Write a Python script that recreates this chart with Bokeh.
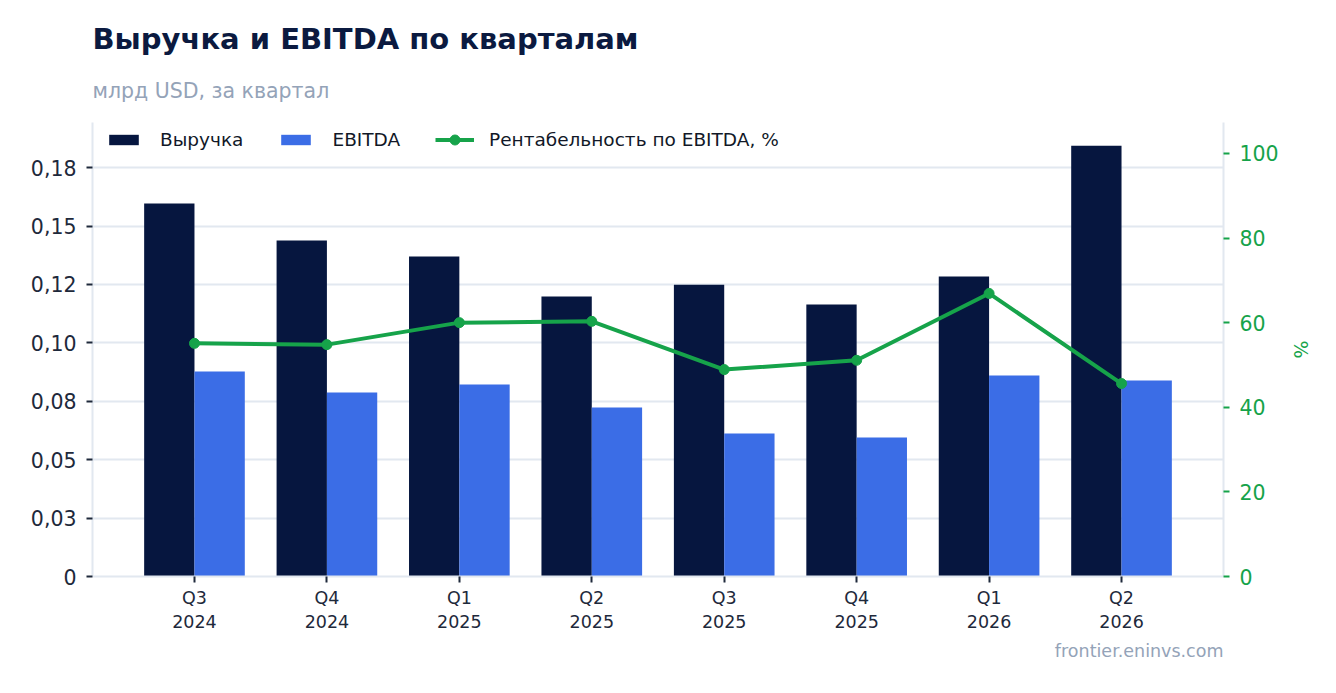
import numpy as np
from bokeh.plotting import figure
from bokeh.models import Range1d, LinearAxis, FixedTicker, Title, Legend
from bokeh.embed import file_html
from bokeh.resources import INLINE

quarters = ["Q3\n2024", "Q4\n2024", "Q1\n2025", "Q2\n2025", "Q3\n2025", "Q4\n2025", "Q1\n2026", "Q2\n2026"]
revenue = [0.1596, 0.1438, 0.1369, 0.1198, 0.1249, 0.1164, 0.1284, 0.1844]
ebitda = [0.0877, 0.0787, 0.0822, 0.0723, 0.0612, 0.0595, 0.0860, 0.0839]
margin = [55.1, 54.8, 60.0, 60.3, 48.9, 51.1, 66.9, 45.6]
left_ticks = [0, 0.025, 0.05, 0.075, 0.1, 0.125, 0.15, 0.175]
left_tick_labels = ["0", "0,03", "0,05", "0,08", "0,10", "0,12", "0,15", "0,18"]
right_ticks = [0, 20, 40, 60, 80, 100]

FONT = "DejaVu Sans"
DARK = "#1e293b"
GRID = "#e2e8f0"
GREEN = "#16a34a"

x = np.arange(len(quarters))

p = figure(width=1320, height=677, output_backend="svg", toolbar_location=None,
           x_range=Range1d(-0.77, len(quarters) - 1 + 0.77),
           y_range=Range1d(0, 0.1943),
           min_border_left=92, min_border_right=97, min_border_top=122, min_border_bottom=101)
p.outline_line_color = None
p.background_fill_color = "white"
p.border_fill_color = "white"
p.extra_y_ranges = {"pct": Range1d(0, 107.3)}

r1 = p.vbar(x=x - 0.19, top=revenue, width=0.38, color="#06163f", line_color=None)
r2 = p.vbar(x=x + 0.19, top=ebitda, width=0.38, color="#3b6de6", line_color=None)
r3 = p.line(x=x, y=margin, y_range_name="pct", line_color=GREEN, line_width=4)
r4 = p.scatter(x=x, y=margin, y_range_name="pct", size=10, color=GREEN)

# axes
p.xaxis.ticker = FixedTicker(ticks=list(x))
p.xaxis.major_label_overrides = {int(i): q for i, q in zip(x, quarters)}
p.xaxis.axis_line_color = GRID
p.xaxis.axis_line_width = 2
p.xaxis.major_tick_line_color = DARK
p.xaxis.major_tick_line_width = 2
p.xaxis.major_tick_out = 6
p.xaxis.major_tick_in = 0
p.xaxis.minor_tick_line_color = None
p.xaxis.major_label_text_font = FONT
p.xaxis.major_label_text_font_size = "17.5px"
p.xaxis.major_label_text_color = DARK
p.xaxis.major_label_standoff = 5

p.yaxis.ticker = FixedTicker(ticks=left_ticks)
p.yaxis.major_label_overrides = {t: l for t, l in zip(left_ticks, left_tick_labels)}
p.yaxis.axis_line_color = GRID
p.yaxis.axis_line_width = 2
p.yaxis.major_tick_line_color = DARK
p.yaxis.major_tick_line_width = 2
p.yaxis.major_tick_out = 6
p.yaxis.major_tick_in = 0
p.yaxis.minor_tick_line_color = None
p.yaxis.major_label_text_font = FONT
p.yaxis.major_label_text_font_size = "20.5px"
p.yaxis.major_label_text_color = DARK
p.yaxis.major_label_standoff = 10

ax2 = LinearAxis(y_range_name="pct", ticker=FixedTicker(ticks=right_ticks), axis_label="%")
ax2.axis_line_color = GRID
ax2.axis_line_width = 2
ax2.major_tick_line_color = GREEN
ax2.major_tick_line_width = 2
ax2.major_tick_out = 6
ax2.major_tick_in = 0
ax2.minor_tick_line_color = None
ax2.major_label_text_font = FONT
ax2.major_label_text_font_size = "20.5px"
ax2.major_label_text_color = GREEN
ax2.major_label_standoff = 10
ax2.axis_label_text_font = FONT
ax2.axis_label_text_font_size = "19px"
ax2.axis_label_text_font_style = "normal"
ax2.axis_label_text_color = GREEN
ax2.axis_label_standoff = 8
p.add_layout(ax2, "right")

p.xgrid.grid_line_color = None
p.ygrid.grid_line_color = GRID
p.ygrid.grid_line_width = 2

legend_bars = Legend(items=[("Выручка", [r1]), ("EBITDA", [r2])],
                     orientation="horizontal", location=(13, 426.5), margin=0, padding=7,
                     glyph_width=37, glyph_height=13, label_standoff=18, spacing=34,
                     label_text_font=FONT, label_text_font_size="18.5px", label_text_color="#111827",
                     background_fill_alpha=0, border_line_color=None)
p.add_layout(legend_bars, "center")
legend_line = Legend(items=[("Рентабельность по EBITDA, %", [r3, r4])],
                     orientation="horizontal", location=(343, 424), margin=0, padding=7,
                     glyph_width=39, glyph_height=25, label_standoff=15, spacing=34,
                     label_text_font=FONT, label_text_font_size="18.5px", label_text_color="#111827",
                     background_fill_alpha=0, border_line_color=None)
p.add_layout(legend_line, "center")

sub = Title(text="млрд USD, за квартал", text_font=FONT, text_font_size="20.5px",
            text_font_style="normal", text_color="#94a3b8", standoff=40)
p.add_layout(sub, "above")
ttl = Title(text="Выручка и EBITDA по кварталам", text_font=FONT, text_font_size="29px",
            text_font_style="bold", text_color="#0b1a40", standoff=2)
p.add_layout(ttl, "above")

foot = Title(text="frontier.eninvs.com", align="right", text_font=FONT, text_font_size="17.5px",
             text_font_style="normal", text_color="#94a3b8", standoff=9)
p.add_layout(foot, "below")

open("out.html", "w").write(file_html(p, INLINE))
